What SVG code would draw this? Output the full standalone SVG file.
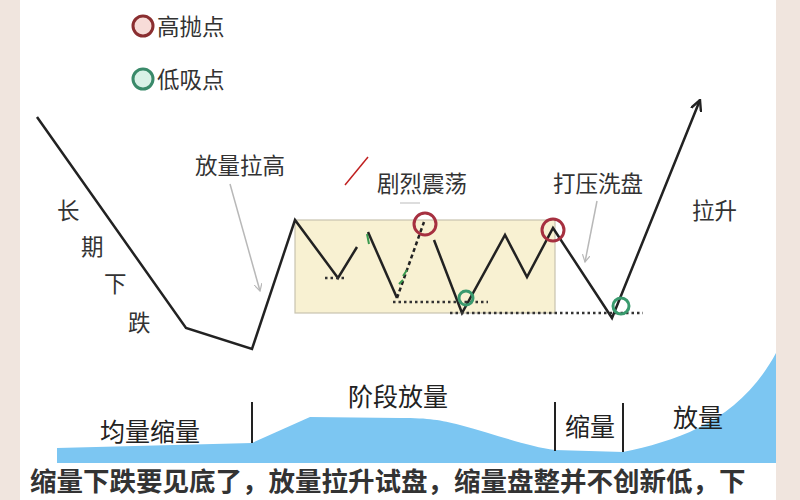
<svg xmlns="http://www.w3.org/2000/svg" width="800" height="500" viewBox="0 0 800 500">
<style>
text{font-family:"Noto Sans CJK SC","Noto Sans CJK JP",sans-serif;fill:#333}
.lbl{font-size:22.5px}
.vol{font-size:25px;fill:#222}
.price{fill:none;stroke:#222;stroke-width:2.5;stroke-linejoin:miter}
.dot{fill:none;stroke:#333;stroke-width:2.5;stroke-dasharray:2.5 3}
.hi{fill:none;stroke:#a63040;stroke-width:3}
.lo{fill:none;stroke:#3a9a6e;stroke-width:3}
.ptr{fill:none;stroke:#b8b8b8;stroke-width:1.5}
.vl{stroke:#222;stroke-width:2}
</style>
<defs>
<marker id="ga" viewBox="0 0 10 10" refX="9" refY="5" markerWidth="8" markerHeight="8" orient="auto" markerUnits="userSpaceOnUse"><path d="M0,0 L9,5 L0,10" fill="none" stroke="#b8b8b8" stroke-width="1.5"/></marker>
<marker id="ba" viewBox="0 0 10 10" refX="9" refY="5" markerWidth="12" markerHeight="12" orient="auto" markerUnits="userSpaceOnUse"><path d="M0,0.5 L9,5 L0,9.5" fill="none" stroke="#222" stroke-width="2"/></marker>
</defs>
<rect width="800" height="500" fill="#fff"/>
<rect x="0" y="0" width="20" height="500" fill="#f0e5de"/>
<rect x="776" y="0" width="24" height="500" fill="#f0e5de"/>

<g id="legend">
<circle cx="143" cy="26" r="10" fill="#f7dcd8" stroke="#8a2e30" stroke-width="3"/>
<text x="157" y="35" class="lbl">高抛点</text>
<circle cx="143" cy="79" r="10" fill="#d9f1e7" stroke="#3a8a6a" stroke-width="3"/>
<text x="157" y="88" class="lbl">低吸点</text>
</g>

<g id="range-box">
<rect x="295" y="220" width="260" height="93" fill="#f8f1d2" stroke="#c8c4b0" stroke-width="1.2"/>
</g>

<g id="volume">
<path d="M57,448 L252,443 L310,417 L400,418 C430,418 440,420 460,425 C500,436 530,447 555,450 L623,452 C680,440 740,420 776,353 L776,463 L57,463 Z" fill="#7cc6f2"/>
<line x1="252" y1="402" x2="252" y2="443" class="vl"/>
<line x1="555" y1="402" x2="555" y2="451" class="vl"/>
<line x1="623" y1="403" x2="623" y2="452" class="vl"/>
<text x="100" y="441" class="vol">均量缩量</text>
<text x="348" y="406" class="vol">阶段放量</text>
<text x="565" y="436" class="vol">缩量</text>
<text x="673" y="427" class="vol">放量</text>
</g>

<g id="connectors">
<polyline class="price" points="37,117 186,328 252,349 295,220 338,278 357,247"/>
<line class="price" x1="368" y1="232" x2="397" y2="298"/>
<line x1="397" y1="298" x2="424" y2="222" stroke="#222" stroke-width="2.5" stroke-dasharray="4 3"/>
<polyline class="price" points="434,240 462,313 505,235 527,277 553,228 612,318 700,100" marker-end="url(#ba)"/>
<line class="dot" x1="325" y1="278" x2="347" y2="278"/>
<line class="dot" x1="393" y1="302" x2="488" y2="302"/>
<line class="dot" x1="450" y1="313" x2="643" y2="313"/>
<line class="ptr" x1="230" y1="184" x2="260" y2="291" marker-end="url(#ga)"/>
<line class="ptr" x1="597" y1="201" x2="585" y2="262" marker-end="url(#ga)"/>
<line x1="368" y1="157" x2="345" y2="185" stroke="#c02020" stroke-width="1.5"/>
<line x1="400" y1="203" x2="420" y2="203" stroke="#bbb" stroke-width="1"/>
<path d="M367,234 l2,10 M403,276 l4,-6 M399,284 l4,-4" stroke="#3a9a4e" stroke-width="2" fill="none"/>
</g>

<g id="points">
<circle cx="425" cy="224" r="11" class="hi"/>
<circle cx="553" cy="230" r="11" class="hi"/>
<circle cx="466" cy="298" r="7" class="lo"/>
<circle cx="621" cy="306" r="8" class="lo"/>
</g>

<g id="labels">
<text x="195" y="174" class="lbl">放量拉高</text>
<text x="377" y="192" class="lbl">剧烈震荡</text>
<text x="553" y="192" class="lbl">打压洗盘</text>
<text x="692" y="219" class="lbl">拉升</text>
<text x="57" y="219" class="lbl">长</text>
<text x="81" y="255" class="lbl">期</text>
<text x="104" y="292" class="lbl">下</text>
<text x="128" y="331" class="lbl">跌</text>
</g>

<text x="30" y="491" style="font-size:26.5px;font-weight:bold;fill:#333">缩量下跌要见底了，放量拉升试盘，缩量盘整并不创新低，下</text>
</svg>
